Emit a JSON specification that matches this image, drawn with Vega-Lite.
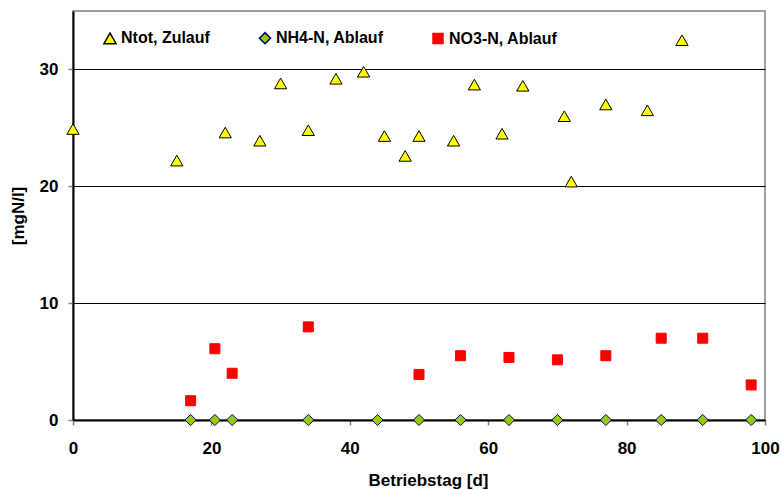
{
  "$schema": "https://vega.github.io/schema/vega-lite/v6.json",
  "autosize": "none",
  "width": 692,
  "height": 409,
  "padding": {"left": 73, "top": 11, "right": 16, "bottom": 70},
  "background": "white",
  "config": {
    "font": "Liberation Sans",
    "view": {"stroke": "#808080", "strokeWidth": 1.5},
    "axis": {
      "labelFont": "Liberation Sans",
      "labelFontWeight": "bold",
      "labelFontSize": 17,
      "labelColor": "#000000",
      "titleFont": "Liberation Sans",
      "titleFontWeight": "bold",
      "titleFontSize": 17,
      "titleColor": "#000000",
      "domainColor": "#000000",
      "domainWidth": 2,
      "tickColor": "#808080",
      "tickSize": 5,
      "tickWidth": 1.5
    }
  },
  "data": {
    "values": [
      {"tag": 0, "wert": 24.9, "serie": "Ntot, Zulauf"},
      {"tag": 15, "wert": 22.2, "serie": "Ntot, Zulauf"},
      {"tag": 22, "wert": 24.6, "serie": "Ntot, Zulauf"},
      {"tag": 27, "wert": 23.9, "serie": "Ntot, Zulauf"},
      {"tag": 30, "wert": 28.8, "serie": "Ntot, Zulauf"},
      {"tag": 34, "wert": 24.8, "serie": "Ntot, Zulauf"},
      {"tag": 38, "wert": 29.2, "serie": "Ntot, Zulauf"},
      {"tag": 42, "wert": 29.8, "serie": "Ntot, Zulauf"},
      {"tag": 45, "wert": 24.3, "serie": "Ntot, Zulauf"},
      {"tag": 48, "wert": 22.6, "serie": "Ntot, Zulauf"},
      {"tag": 50, "wert": 24.3, "serie": "Ntot, Zulauf"},
      {"tag": 55, "wert": 23.9, "serie": "Ntot, Zulauf"},
      {"tag": 58, "wert": 28.7, "serie": "Ntot, Zulauf"},
      {"tag": 62, "wert": 24.5, "serie": "Ntot, Zulauf"},
      {"tag": 65, "wert": 28.6, "serie": "Ntot, Zulauf"},
      {"tag": 71, "wert": 26.0, "serie": "Ntot, Zulauf"},
      {"tag": 72, "wert": 20.4, "serie": "Ntot, Zulauf"},
      {"tag": 77, "wert": 27.0, "serie": "Ntot, Zulauf"},
      {"tag": 83, "wert": 26.5, "serie": "Ntot, Zulauf"},
      {"tag": 88, "wert": 32.5, "serie": "Ntot, Zulauf"},
      {"tag": 17, "wert": 0, "serie": "NH4-N, Ablauf"},
      {"tag": 20.5, "wert": 0, "serie": "NH4-N, Ablauf"},
      {"tag": 23, "wert": 0, "serie": "NH4-N, Ablauf"},
      {"tag": 34, "wert": 0, "serie": "NH4-N, Ablauf"},
      {"tag": 44, "wert": 0, "serie": "NH4-N, Ablauf"},
      {"tag": 50, "wert": 0, "serie": "NH4-N, Ablauf"},
      {"tag": 56, "wert": 0, "serie": "NH4-N, Ablauf"},
      {"tag": 63, "wert": 0, "serie": "NH4-N, Ablauf"},
      {"tag": 70, "wert": 0, "serie": "NH4-N, Ablauf"},
      {"tag": 77, "wert": 0, "serie": "NH4-N, Ablauf"},
      {"tag": 85, "wert": 0, "serie": "NH4-N, Ablauf"},
      {"tag": 91, "wert": 0, "serie": "NH4-N, Ablauf"},
      {"tag": 98, "wert": 0, "serie": "NH4-N, Ablauf"},
      {"tag": 17, "wert": 1.65, "serie": "NO3-N, Ablauf"},
      {"tag": 20.5, "wert": 6.1, "serie": "NO3-N, Ablauf"},
      {"tag": 23, "wert": 4.0, "serie": "NO3-N, Ablauf"},
      {"tag": 34, "wert": 7.97, "serie": "NO3-N, Ablauf"},
      {"tag": 50, "wert": 3.9, "serie": "NO3-N, Ablauf"},
      {"tag": 56, "wert": 5.5, "serie": "NO3-N, Ablauf"},
      {"tag": 63, "wert": 5.35, "serie": "NO3-N, Ablauf"},
      {"tag": 70, "wert": 5.15, "serie": "NO3-N, Ablauf"},
      {"tag": 77, "wert": 5.5, "serie": "NO3-N, Ablauf"},
      {"tag": 85, "wert": 7.0, "serie": "NO3-N, Ablauf"},
      {"tag": 91, "wert": 7.0, "serie": "NO3-N, Ablauf"},
      {"tag": 98, "wert": 3.0, "serie": "NO3-N, Ablauf"}
    ]
  },
  "mark": {"type": "point", "filled": true, "opacity": 1, "strokeWidth": 1, "clip": false},
  "encoding": {
    "x": {
      "field": "tag",
      "type": "quantitative",
      "title": "Betriebstag [d]",
      "scale": {"domain": [0, 100], "nice": false, "zero": false},
      "axis": {"values": [0, 20, 40, 60, 80, 100], "grid": false, "labelPadding": 15, "titleX": 355, "titleY": 65, "titleAlign": "center", "titleBaseline": "alphabetic", "labelFlush": false}
    },
    "y": {
      "field": "wert",
      "type": "quantitative",
      "title": "[mgN/l]",
      "scale": {"domain": [0, 35], "nice": false},
      "axis": {"values": [0, 10, 20, 30], "grid": true, "gridColor": "#000000", "gridWidth": 1, "labelPadding": 10, "titlePadding": 12, "labelFlush": false}
    },
    "shape": {
      "field": "serie",
      "type": "nominal",
      "scale": {"domain": ["Ntot, Zulauf", "NH4-N, Ablauf", "NO3-N, Ablauf"], "range": ["triangle-up", "diamond", "square"]},
      "legend": {
        "title": null,
        "orient": "none",
        "direction": "horizontal",
        "legendX": 29,
        "legendY": 19,
        "labelFont": "Liberation Sans",
        "labelFontWeight": "bold",
        "labelFontSize": 16,
        "labelColor": "#000000",
        "labelOffset": 3,
        "columnPadding": 46,
        "labelLimit": 300
      }
    },
    "fill": {
      "field": "serie",
      "type": "nominal",
      "scale": {"domain": ["Ntot, Zulauf", "NH4-N, Ablauf", "NO3-N, Ablauf"], "range": ["#FFFF00", "#99CC00", "#FF0000"]}
    },
    "stroke": {
      "field": "serie",
      "type": "nominal",
      "scale": {"domain": ["Ntot, Zulauf", "NH4-N, Ablauf", "NO3-N, Ablauf"], "range": ["#000000", "#000080", "#FF0000"]}
    },
    "size": {
      "field": "serie",
      "type": "nominal",
      "scale": {"domain": ["Ntot, Zulauf", "NH4-N, Ablauf", "NO3-N, Ablauf"], "range": [150, 100, 130]}
    }
  }
}
